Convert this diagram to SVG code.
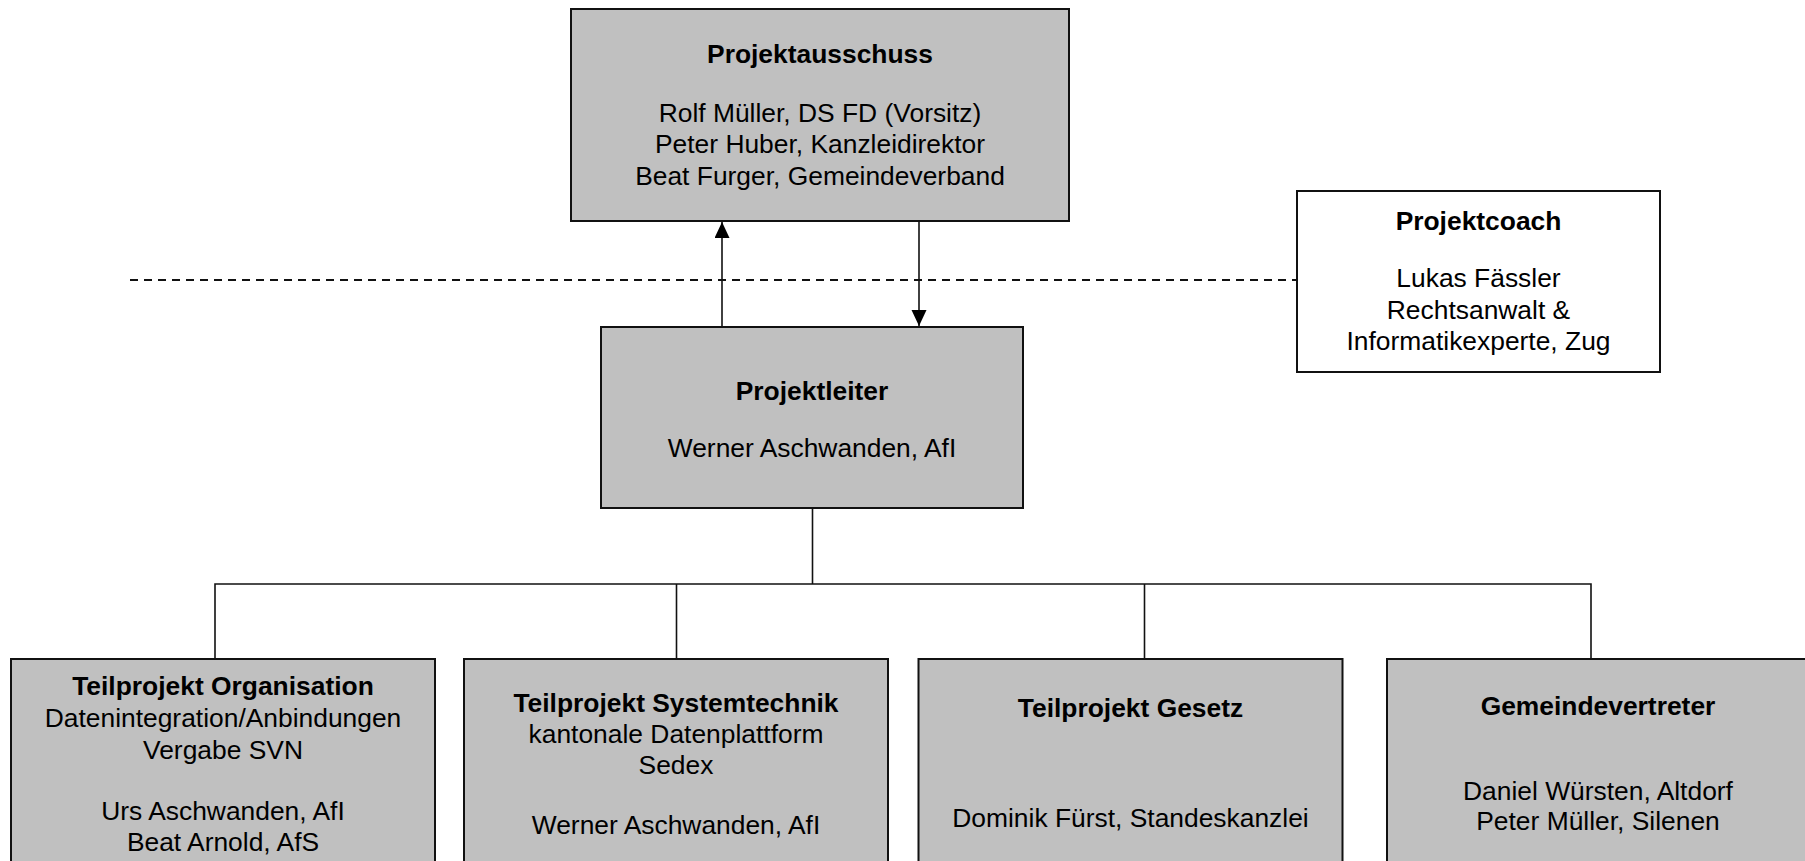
<svg xmlns="http://www.w3.org/2000/svg" width="1805" height="861" viewBox="0 0 1805 861">
<style>
  .box { fill: #c0c0c0; stroke: #111; stroke-width: 2; }
  .wbox { fill: #ffffff; stroke: #111; stroke-width: 2; }
  .line { fill: none; stroke: #111; stroke-width: 1.6; }
  .dash { fill: none; stroke: #111; stroke-width: 2; stroke-dasharray: 8 6; }
  text { font-family: "Liberation Sans", Arial, sans-serif; font-size: 26.4px; fill: #000; text-anchor: middle; }
  .b { font-weight: bold; }
</style>
<defs>
  <marker id="arrow" markerUnits="userSpaceOnUse" markerWidth="17" markerHeight="16" refX="16" refY="7.5" orient="auto">
    <path d="M0,0 L16,7.5 L0,15 z" fill="#000"/>
  </marker>
</defs>
<rect width="1805" height="861" fill="#ffffff"/>
<g id="connectors">
  <line class="dash" x1="130" y1="280" x2="1297" y2="280"/>
  <line class="line" x1="722" y1="327" x2="722" y2="222" marker-end="url(#arrow)"/>
  <line class="line" x1="919" y1="221" x2="919" y2="326" marker-end="url(#arrow)"/>
  <line class="line" x1="812.5" y1="508" x2="812.5" y2="584"/>
  <polyline class="line" points="215,659 215,584 1591,584 1591,659"/>
  <line class="line" x1="676.5" y1="584" x2="676.5" y2="659"/>
  <line class="line" x1="1144.5" y1="584" x2="1144.5" y2="659"/>
</g>
<g id="projektausschuss">
  <rect class="box" x="571" y="9" width="498" height="212"/>
  <text class="b" x="820" y="63">Projektausschuss</text>
  <text x="820" y="121.5">Rolf Müller, DS FD (Vorsitz)</text>
  <text x="820" y="153">Peter Huber, Kanzleidirektor</text>
  <text x="820" y="184.5">Beat Furger, Gemeindeverband</text>
</g>
<g id="projektcoach">
  <rect class="wbox" x="1297" y="191" width="363" height="181"/>
  <text class="b" x="1478.5" y="230">Projektcoach</text>
  <text x="1478.5" y="287">Lukas Fässler</text>
  <text x="1478.5" y="318.5">Rechtsanwalt &amp;</text>
  <text x="1478.5" y="350">Informatikexperte, Zug</text>
</g>
<g id="projektleiter">
  <rect class="box" x="601" y="327" width="422" height="181"/>
  <text class="b" x="812" y="399.5">Projektleiter</text>
  <text x="812" y="456.5">Werner Aschwanden, AfI</text>
</g>
<g id="tp-organisation">
  <rect class="box" x="11" y="659" width="424" height="230"/>
  <text class="b" x="223" y="695">Teilprojekt Organisation</text>
  <text x="223" y="727">Datenintegration/Anbindungen</text>
  <text x="223" y="758.5">Vergabe SVN</text>
  <text x="223" y="819.5">Urs Aschwanden, AfI</text>
  <text x="223" y="850.5">Beat Arnold, AfS</text>
</g>
<g id="tp-systemtechnik">
  <rect class="box" x="464" y="659" width="424" height="230"/>
  <text class="b" x="676" y="711.5">Teilprojekt Systemtechnik</text>
  <text x="676" y="743">kantonale Datenplattform</text>
  <text x="676" y="774">Sedex</text>
  <text x="676" y="833.5">Werner Aschwanden, AfI</text>
</g>
<g id="tp-gesetz">
  <rect class="box" x="918.5" y="659" width="424" height="230"/>
  <text class="b" x="1130.5" y="716.5">Teilprojekt Gesetz</text>
  <text x="1130.5" y="826.5">Dominik Fürst, Standeskanzlei</text>
</g>
<g id="gemeindevertreter">
  <rect class="box" x="1387" y="659" width="422" height="230"/>
  <text class="b" x="1598" y="715">Gemeindevertreter</text>
  <text x="1598" y="799.5">Daniel Würsten, Altdorf</text>
  <text x="1598" y="830">Peter Müller, Silenen</text>
</g>
</svg>
